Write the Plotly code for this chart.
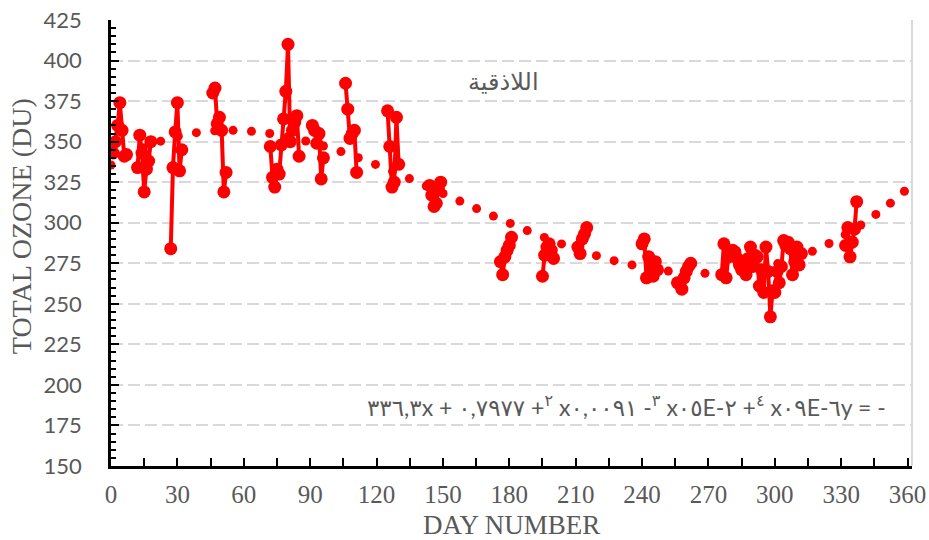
import numpy as np
import plotly.graph_objects as go

# Daily total ozone at Latakia: day of year and column ozone (DU)
days = [
    1, 2, 3, 4, 5, 6, 7,
    12, 13, 14, 15, 16, 17, 18,
    27, 28, 29, 30, 31, 32,
    46, 47, 48, 49, 50, 51, 52,
    72, 73, 74, 75, 76, 77, 78, 79, 80, 81, 82, 83, 84, 85,
    91, 92, 93, 94, 95, 96,
    106, 107, 108, 109, 110, 111,
    125, 126, 127, 128, 129, 130,
    144, 145, 146, 147, 148, 149,
    176, 177, 178, 179, 180, 181,
    195, 196, 197, 198, 199, 200,
    211, 212, 213, 214, 215,
    240, 241, 242, 243, 244, 245, 246, 247,
    256, 257, 258, 259, 260, 261, 262,
    276, 277, 278, 279, 280, 281, 282, 283, 284, 285, 286, 287, 288, 289,
    290, 291, 292, 293, 294, 295, 296, 297, 298, 299, 300, 301, 302, 303,
    304, 305, 306, 307, 308, 309, 310, 311, 312,
    332, 333, 334, 335, 336, 337,
]
ozone = [
    343, 350, 360, 374, 357, 341, 342,
    334, 354, 343, 319, 333, 338, 350,
    284, 334, 356, 374, 332, 345,
    380, 383, 361, 365, 357, 319, 331,
    347, 328, 322, 333, 330, 348, 364, 381, 410, 350, 357, 362, 366, 341,
    360, 357, 349, 355, 327, 340,
    386, 370, 352, 355, 357, 331,
    369, 347, 322, 325, 365, 336,
    323, 317, 310, 312, 321, 325,
    276, 268, 279, 283, 286, 291,
    267, 280, 285, 287, 283, 278,
    285, 281, 290, 293, 297,
    287, 290, 266, 279, 272, 267, 276, 271,
    263, 262, 259, 266, 270, 273, 275,
    268, 287, 266, 279, 281, 283, 282, 278, 274, 271, 276, 268, 278, 285,
    273, 280, 279, 261, 271, 257, 285, 270, 242, 258, 257, 270, 263, 273,
    289, 286, 288, 284, 268, 276, 285, 274, 281,
    286, 297, 279, 288, 296, 313,
]

x_ticks = list(range(0, 361, 30))
y_ticks = list(range(150, 426, 25))
station = "اللاذقية"
equation = ("\u202D٣٣٦,٣x + ٠,٧٩٧٧ +<sup>٢</sup> x٠,٠٠٩١ -<sup>٣</sup> "
            "x٠٥E-٢ +<sup>٤</sup> x٠٩E-٦y = -\u202C")

X_RANGE = [0, 362]
Y_RANGE = [150, 425]
W, H = 929, 540
M = dict(l=111, r=17, t=20, b=74)
RED = "#FF0000"
GREY = "#595959"

# consecutive days are joined; missing days break the line
xs, ys = [], []
prev = None
for d, v in zip(days, ozone):
    if prev is not None and d - prev > 1:
        xs.append(None)
        ys.append(None)
    xs.append(d)
    ys.append(v)
    prev = d

# 4th-order polynomial trend, drawn as evenly spaced round dots
coef = np.polyfit(np.array(days, float), np.array(ozone, float), 4)
kx = (W - M["l"] - M["r"]) / (X_RANGE[1] - X_RANGE[0])
ky = (H - M["t"] - M["b"]) / (Y_RANGE[1] - Y_RANGE[0])
t = np.linspace(0, 361, 6000)
yt = np.polyval(coef, t)
seg = np.hypot(np.diff(t) * kx, np.diff(yt) * ky)
s = np.concatenate([[0], np.cumsum(seg)])
s_dots = np.arange(0, s[-1], 18.4)
t_dots = np.interp(s_dots, s, t)
y_dots = np.polyval(coef, t_dots)

fig = go.Figure()
fig.add_trace(go.Scatter(
    x=xs, y=ys, mode="lines+markers", connectgaps=False,
    line=dict(color=RED, width=4),
    marker=dict(color=RED, size=13),
    hoverinfo="x+y", showlegend=False,
))
fig.add_trace(go.Scatter(
    x=t_dots, y=y_dots, mode="markers",
    marker=dict(color=RED, size=9),
    hoverinfo="skip", showlegend=False,
))

fig.update_layout(
    width=W, height=H, margin=M,
    paper_bgcolor="white", plot_bgcolor="white",
    showlegend=False,
    xaxis=dict(
        range=X_RANGE, tickvals=x_ticks, ticktext=[str(v) for v in x_ticks],
        ticks="inside", ticklen=8, tickwidth=2, tickcolor="black",
        minor=dict(dtick=15, tick0=0, ticks="inside", ticklen=8,
                   tickwidth=2, tickcolor="black", showgrid=False),
        showline=True, linecolor="black", linewidth=2.5,
        showgrid=False, zeroline=False, automargin=False,
        tickfont=dict(family="Liberation Serif", size=25, color=GREY),
        ticklabelstandoff=4,
    ),
    yaxis=dict(
        range=Y_RANGE, tickvals=y_ticks,
        ticks="inside", ticklen=8, tickwidth=2, tickcolor="black",
        minor=dict(dtick=5, tick0=150, ticks="inside", ticklen=5,
                   tickwidth=2, tickcolor="black", showgrid=False),
        showline=True, linecolor="black", linewidth=2.5,
        showgrid=True, gridcolor="#D9D9D9", gridwidth=1.5,
        griddash="12px,5px", zeroline=False, automargin=False,
        tickfont=dict(family="Lato", size=22, color=GREY),
        ticklabelstandoff=22,
    ),
    shapes=[dict(type="line", xref="paper", yref="paper",
                 x0=1, x1=1, y0=0, y1=1,
                 line=dict(color="#D9D9D9", width=2))],
    annotations=[
        dict(text="DAY NUMBER", xref="paper", yref="paper", x=0.5, y=-0.1324,
             xanchor="center", yanchor="middle", showarrow=False,
             font=dict(family="Liberation Serif", size=27, color=GREY)),
        dict(text="TOTAL OZONE (DU)", xref="paper", yref="paper",
             x=-0.1124, y=0.5376, textangle=-90,
             xanchor="center", yanchor="middle", showarrow=False,
             font=dict(family="Liberation Serif", size=28, color=GREY)),
        dict(text=station, xref="paper", yref="paper", x=0.4906, y=0.861,
             xanchor="center", yanchor="middle", showarrow=False,
             font=dict(family="DejaVu Sans", size=24, color=GREY)),
        dict(text=equation, xref="paper", yref="paper", x=0.643, y=0.1358,
             xanchor="center", yanchor="middle", showarrow=False,
             font=dict(family="Lato, DejaVu Sans", size=23, color=GREY)),
    ],
)

fig.write_html("out.html")
